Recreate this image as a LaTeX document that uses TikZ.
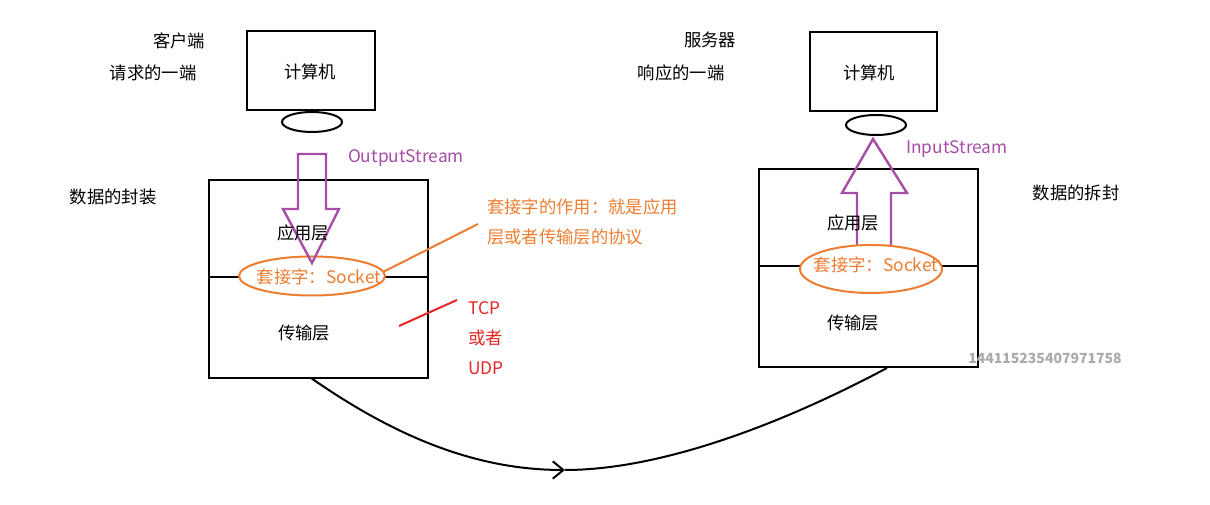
\documentclass[tikz,border=0pt]{standalone}
\usepackage{fontspec}
\newfontfamily\cjk{Noto Sans CJK SC}
\usetikzlibrary{arrows.meta}
\definecolor{streampurple}{RGB}{166,77,166}
\definecolor{sockorange}{RGB}{237,125,49}
\definecolor{protored}{RGB}{228,38,38}
\definecolor{markgray}{RGB}{170,170,170}
\begin{document}
\begin{tikzpicture}[x=0.75pt,y=-0.75pt,
  lbl/.style={font=\cjk\fontsize{13}{15}\selectfont,inner sep=0pt},
  orangelbl/.style={lbl,text=sockorange},
  redlbl/.style={lbl,text=protored,anchor=west},
  purplelbl/.style={lbl,text=streampurple},
  frame/.style={draw=black,line width=1.5pt},
  sock/.style={draw=sockorange,line width=1.5pt,fill=white},
  stream/.style={draw=streampurple,line width=1.8pt,line join=miter}]
\useasboundingbox (0,0) rectangle (1210,505);
% client side
\draw [frame] (247,31) rectangle (375,110);
\draw [frame] (312,122) ellipse (30 and 10);
\node [lbl] (clientpc) at (310,72) {计算机};
\node [lbl] (client) at (179,41) {客户端};
\node [lbl] (clientreq) at (153,73) {请求的一端};
\node [lbl] (pack) at (113,197) {数据的封装};
\draw [frame] (209,180) rectangle (428,378);
\draw [frame] (209,277) -- (428,277);
\draw [sock] (312,276) ellipse (73 and 19.5);
\draw [stream] (298,154) -- (326,154) -- (326,209) -- (339,209) -- (312,263) -- (283,209) -- (298,209) -- cycle;
\node [purplelbl] (outstream) at (406,158) {OutputStream};
\node [lbl] (lapp) at (303,233) {应用层};
\node [lbl] (ltrans) at (304,333) {传输层};
\node [orangelbl] (lsock) at (319,277) {套接字：Socket};
% note on socket
\node [orangelbl,anchor=north west,align=left,font=\cjk\fontsize{13}{22.5}\selectfont] (socknote) at (487,199) {套接字的作用：就是应用\\层或者传输层的协议};
\draw [draw=sockorange,line width=1.5pt] (383,272) -- (478,224);
\draw [draw=protored,line width=1.5pt] (399,326) -- (457,300);
\node [redlbl] (tcp) at (468,308) {TCP};
\node [redlbl] (orword) at (468,338) {或者};
\node [redlbl] (udp) at (468,368) {UDP};
% server side
\draw [frame] (810,32) rectangle (937,111);
\draw [frame] (876,125) ellipse (30 and 10);
\node [lbl] (serverpc) at (869,73) {计算机};
\node [lbl] (server) at (710,40) {服务器};
\node [lbl] (serverresp) at (681,73) {响应的一端};
\node [lbl] (unpack) at (1076,193) {数据的拆封};
\draw [frame] (759,169) rectangle (978,367);
\draw [frame] (759,266) -- (978,266);
\draw [stream] (857,246) -- (857,193) -- (842,193) -- (873,139) -- (907,193) -- (891,193) -- (891,246) -- cycle;
\draw [sock] (871,269) ellipse (71 and 24);
\node [purplelbl] (instream) at (957,149) {InputStream};
\node [lbl] (rapp) at (853,223) {应用层};
\node [lbl] (rtrans) at (853,323) {传输层};
\node [orangelbl] (rsock) at (876,265) {套接字：Socket};
\node [lbl,text=markgray,font=\cjk\fontsize{10.5}{12}\selectfont\bfseries] (mark) at (1045,358) {144115235407971758};
% transfer curve
\coordinate (lbot) at (311,378);
\coordinate (turn) at (565,470);
\coordinate (rbot) at (887,368);
\draw [line width=1.5pt,-{Straight Barb[length=8pt,width=13pt]}] (lbot) .. controls (400,440) and (480,470) .. (turn);
\draw [line width=1.5pt] (turn) .. controls (660,470) and (780,425) .. (rbot);
\end{tikzpicture}
\end{document}
